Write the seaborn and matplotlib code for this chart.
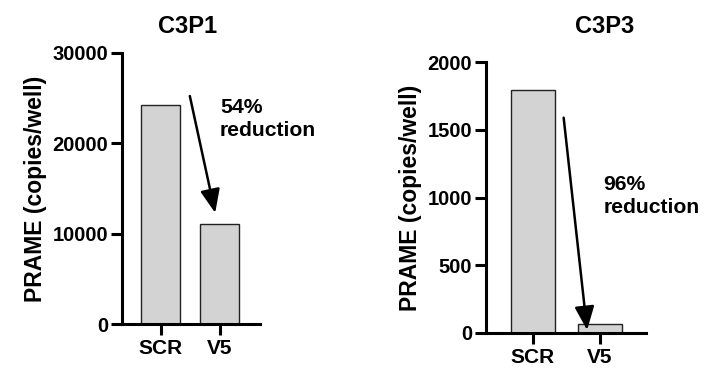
import matplotlib
matplotlib.use("Agg")
import matplotlib.pyplot as plt
import seaborn as sns
import pandas as pd

sns.set_theme(style="ticks")
plt.rcParams['font.family'] = ['Liberation Sans', 'DejaVu Sans']
plt.rcParams['font.weight'] = 'bold'
for k in ['text.color', 'axes.labelcolor', 'xtick.color', 'ytick.color', 'axes.edgecolor']:
    plt.rcParams[k] = 'black'

categories = ["SCR", "V5"]
c3p1_values = [24200, 11100]
c3p3_values = [1790, 70]
titles = ["C3P1", "C3P3"]
notes = ["54%\nreduction", "96%\nreduction"]
y_ticks_1 = [0, 10000, 20000, 30000]
y_ticks_2 = [0, 500, 1000, 1500, 2000]

W, H = 705, 371
fig = plt.figure(figsize=(W / 100, H / 100), dpi=100)

def px_axes(x0, y0, x1, y1):
    return fig.add_axes([x0 / W, 1 - y1 / H, (x1 - x0) / W, (y1 - y0) / H])

ax1 = px_axes(122, 53, 260, 324)
ax2 = px_axes(486, 62, 646, 333)

def draw(ax, vals, yticks, ymax, xlim, title, title_xy, note, note_xy, arrow_from, arrow_to):
    df = pd.DataFrame({"cat": categories, "val": vals})
    sns.barplot(data=df, x="cat", y="val", ax=ax, color="#d3d3d3",
                edgecolor="#222222", linewidth=1.0, width=0.66, saturation=1)
    ax.set_ylim(0, ymax)
    ax.set_xlim(*xlim)
    ax.set_yticks(yticks)
    ax.set_xlabel("")
    ax.set_ylabel("PRAME (copies/well)", fontsize=16.5, fontweight="bold", labelpad=4)
    for s in ["top", "right"]:
        ax.spines[s].set_visible(False)
    for s in ["left", "bottom"]:
        ax.spines[s].set_linewidth(2.2)
    ax.tick_params(axis="both", width=2.2, length=8, labelsize=14.5, pad=2)
    ax.tick_params(axis="x", labelsize=15, pad=3)
    for lab in ax.get_xticklabels() + ax.get_yticklabels():
        lab.set_fontweight("bold")
    ax.text(title_xy[0], title_xy[1], title, transform=ax.transAxes, ha="center",
            va="baseline", fontsize=17, fontweight="bold")
    ax.annotate("", xy=arrow_to, xytext=arrow_from,
                arrowprops=dict(arrowstyle="-|>,head_length=1.2,head_width=0.5",
                                color="black", lw=1.8, shrinkA=0, shrinkB=0))
    ax.text(note_xy[0], note_xy[1], note, ha="left", va="top",
            fontsize=15.2, fontweight="bold", linespacing=1.28)

draw(ax1, c3p1_values, y_ticks_1, 30000, (-0.66, 1.68), titles[0], (0.478, 1.074),
     notes[0], (1.0, 25000), (0.49, 25240), (0.92, 12300))
draw(ax2, c3p3_values, y_ticks_2, 2000, (-0.70, 1.69), titles[1], (0.744, 1.107),
     notes[1], (1.05, 1165), (0.46, 1589), (0.81, 22))

fig.savefig("out.png", dpi=100)
